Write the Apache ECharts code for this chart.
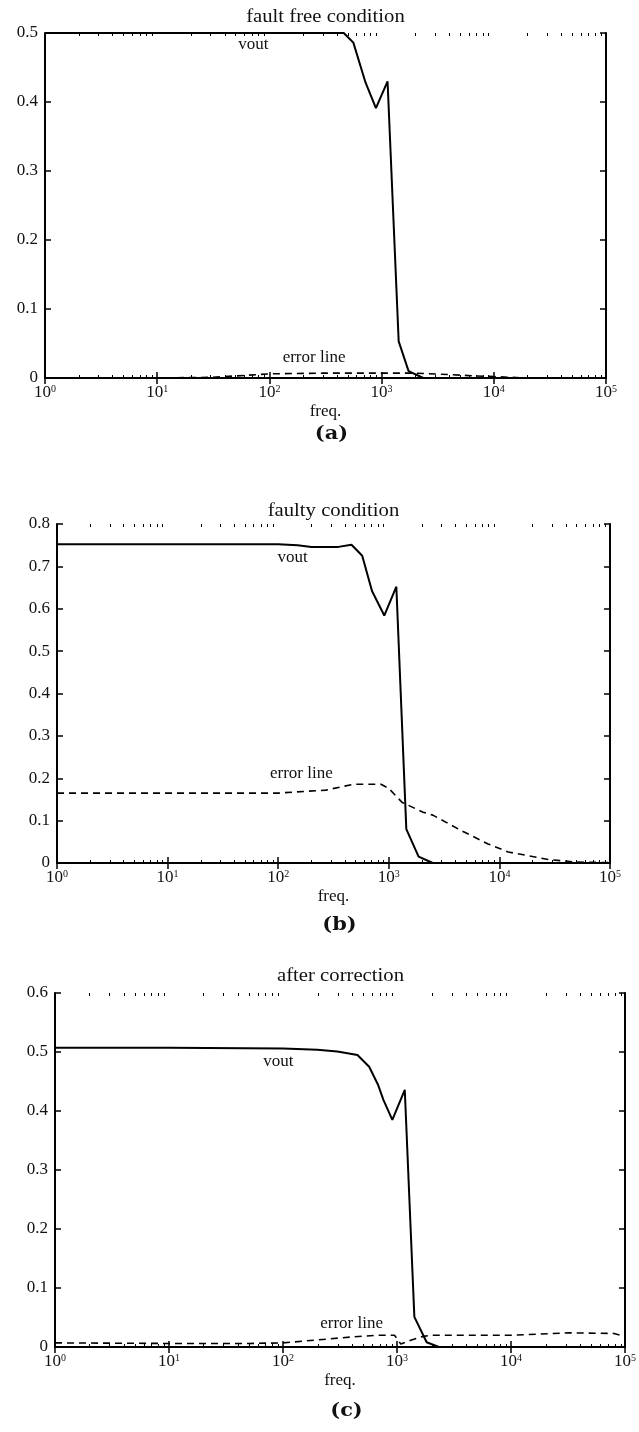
<!DOCTYPE html>
<html>
<head>
<meta charset="utf-8">
<script src="https://cdn.jsdelivr.net/npm/echarts@6/dist/echarts.min.js"></script>
<style>
html,body{margin:0;padding:0;background:#fff;}
#c{width:639px;height:1432px;}
</style>
</head>
<body>
<div id="c"></div>
<script>
// ---------- data ----------
const titles = ['fault free condition', 'faulty condition', 'after correction'];
const captions = ['(a)', '(b)', '(c)'];
const yMax = [0.5, 0.8, 0.6];
const xMinorTicks = [2, 3, 4, 5, 6, 7, 8, 9,
  20, 30, 40, 50, 60, 70, 80, 90,
  200, 300, 400, 500, 600, 700, 800, 900,
  2000, 3000, 4000, 5000, 6000, 7000, 8000, 9000,
  20000, 30000, 40000, 50000, 60000, 70000, 80000, 90000];

const voutA_f = [1, 10, 100, 300, 460, 560, 720, 890, 1130, 1420, 1740, 2350, 10000, 100000];
const voutA_v = [0.5, 0.5, 0.5, 0.5, 0.5, 0.486, 0.428, 0.391, 0.43, 0.053, 0.01, 0, 0, 0];
const errA_f = [1, 10, 30, 50, 80, 100, 300, 1000, 2000, 4000, 7000, 10000, 20000, 100000];
const errA_v = [0, 0, 0.001, 0.003, 0.005, 0.006, 0.007, 0.007, 0.007, 0.005, 0.003, 0.002, 0, 0];

const voutB_f = [1, 100, 150, 200, 350, 460, 575, 705, 910, 1170, 1440, 1860, 2500, 100000];
const voutB_v = [0.752, 0.752, 0.75, 0.746, 0.746, 0.751, 0.725, 0.642, 0.584, 0.652, 0.08, 0.015, 0, 0];
const errB_f = [1, 100, 270, 480, 850, 1000, 1320, 2040, 2500, 4400, 7900, 12000, 28000, 50000, 100000];
const errB_v = [0.165, 0.165, 0.172, 0.186, 0.186, 0.176, 0.143, 0.12, 0.113, 0.078, 0.045, 0.026, 0.008, 0.002, 0.001];

const voutC_f = [1, 10, 100, 200, 300, 450, 570, 680, 760, 910, 1170, 1420, 1820, 2330, 100000];
const voutC_v = [0.507, 0.507, 0.506, 0.504, 0.501, 0.495, 0.475, 0.445, 0.419, 0.385, 0.436, 0.051, 0.008, 0, 0];
const errC_f = [1, 10, 50, 100, 200, 400, 700, 950, 1080, 1300, 1700, 2000, 10000, 32000, 80000, 100000];
const errC_v = [0.007, 0.006, 0.006, 0.007, 0.012, 0.017, 0.02, 0.02, 0.005, 0.011, 0.018, 0.02, 0.02, 0.024, 0.023, 0.018];

// annotation anchors [freq, value]
const voutLabel = [[72, 0.483], [135, 0.72], [91, 0.483]];
const errLabel = [[250, 0.029], [162, 0.212], [400, 0.04]];

// ---------- layout ----------
const grids = [
  {left: 45, right: 33, top: 33, height: 345},
  {left: 57, right: 29, top: 524, height: 339},
  {left: 55, right: 13, top: 993, height: 354}
];
const titleGap = [7, 4, 8];
const captionGap = [56, 62, 64];
const W = 639;
const FONT = 'Liberation Serif';

function pairs(f, v) { return f.map((x, i) => [x, v[i]]); }
const voutSets = [pairs(voutA_f, voutA_v), pairs(voutB_f, voutB_v), pairs(voutC_f, voutC_v)];
const errSets = [pairs(errA_f, errA_v), pairs(errB_f, errB_v), pairs(errC_f, errC_v)];

const allGrids = grids.concat(grids.map(g => Object.assign({}, g)));
const xAxes = [], yAxes = [], series = [], graphics = [];
grids.forEach((g, i) => {
  const common = {
    gridIndex: i, type: 'log', logBase: 10, min: 1, max: 100000,
    axisLine: {lineStyle: {color: '#000', width: 2}},
    axisTick: {inside: true, length: 6, lineStyle: {color: '#000', width: 1.5}},
    splitLine: {show: false}
  };
  xAxes.push(Object.assign({}, common, {
    position: 'bottom',
    name: 'freq.', nameLocation: 'middle', nameGap: 25,
    nameTextStyle: {fontFamily: FONT, fontSize: 17, color: '#111'},
    axisLabel: {
      margin: 6,
      formatter: v => '{b|10}{s|' + Math.round(Math.log10(v)) + '}',
      rich: {
        b: {fontFamily: FONT, fontSize: 17, color: '#111', lineHeight: 18},
        s: {fontFamily: FONT, fontSize: 10, color: '#111', lineHeight: 18, verticalAlign: 'top'}
      }
    }
  }));
  xAxes.push(Object.assign({}, common, {position: 'top', axisLabel: {show: false}}));
  const yc = {
    gridIndex: i, type: 'value', min: 0, max: yMax[i], interval: 0.1,
    axisLine: {show: true, lineStyle: {color: '#000', width: 2}},
    axisTick: {show: true, inside: true, length: 6, lineStyle: {color: '#000', width: 1.5}},
    splitLine: {show: false}
  };
  yAxes.push(Object.assign({}, yc, {
    position: 'left',
    axisLabel: {
      margin: 7, fontFamily: FONT, fontSize: 17, color: '#111',
      formatter: v => (Math.round(v * 10) / 10).toString()
    }
  }));
  yAxes.push(Object.assign({}, yc, {position: 'right', axisLabel: {show: false}}));

  const lbl = (coord, text) => ({
    coord: coord, symbol: 'circle', symbolSize: 0,
    label: {show: true, position: 'inside', formatter: text, fontFamily: FONT, fontSize: 17, color: '#111'}
  });
  series.push({
    type: 'line', name: 'vout', xAxisIndex: 2 * i, yAxisIndex: 2 * i,
    data: voutSets[i], showSymbol: false, symbol: 'none',
    lineStyle: {color: '#000', width: 2}, silent: true, z: 3,
    markPoint: {silent: true, data: [lbl(voutLabel[i], 'vout')]}
  });
  series.push({
    type: 'line', name: 'error line', xAxisIndex: 2 * i, yAxisIndex: 2 * i,
    data: errSets[i], showSymbol: false, symbol: 'none',
    lineStyle: {color: '#000', width: 1.6, type: [7, 5]}, silent: true, z: 2,
    markPoint: {silent: true, data: [lbl(errLabel[i], 'error line')]}
  });

  const cx = g.left + (W - g.left - g.right) / 2;
  graphics.push({
    type: 'text', position: [cx, g.top - titleGap[i]], scaleX: 1.15,
    style: {text: titles[i], x: 0, y: 0, textAlign: 'center', textVerticalAlign: 'bottom',
      font: '18px "' + FONT + '"', fill: '#111'}
  });
  graphics.push({
    type: 'text', position: [cx + 6, g.top + g.height + captionGap[i]], scaleX: 1.1,
    style: {text: captions[i], x: 0, y: 0, textAlign: 'center', textVerticalAlign: 'middle',
      font: 'bold 19px "DejaVu Serif"', fill: '#111'}
  });
});

// overlay grids carrying the short minor ticks of the log axes
grids.forEach((g, i) => {
  const gi = grids.length + i;
  const minor = {
    gridIndex: gi, type: 'log', logBase: 10, min: 1, max: 100000,
    axisLine: {show: false}, axisLabel: {show: false}, splitLine: {show: false},
    axisTick: {show: true, inside: true, length: 3, customValues: xMinorTicks,
      lineStyle: {color: '#000', width: 1}}
  };
  xAxes.push(Object.assign({}, minor, {position: 'bottom'}));
  xAxes.push(Object.assign({}, minor, {position: 'top'}));
  yAxes.push({gridIndex: gi, type: 'value', min: 0, max: yMax[i], show: false});
});

const chart = echarts.init(document.getElementById('c'), null, {renderer: 'canvas'});
chart.setOption({
  backgroundColor: '#fff',
  animation: false,
  grid: allGrids,
  xAxis: xAxes,
  yAxis: yAxes,
  series: series,
  graphic: graphics
});
</script>
</body>
</html>
